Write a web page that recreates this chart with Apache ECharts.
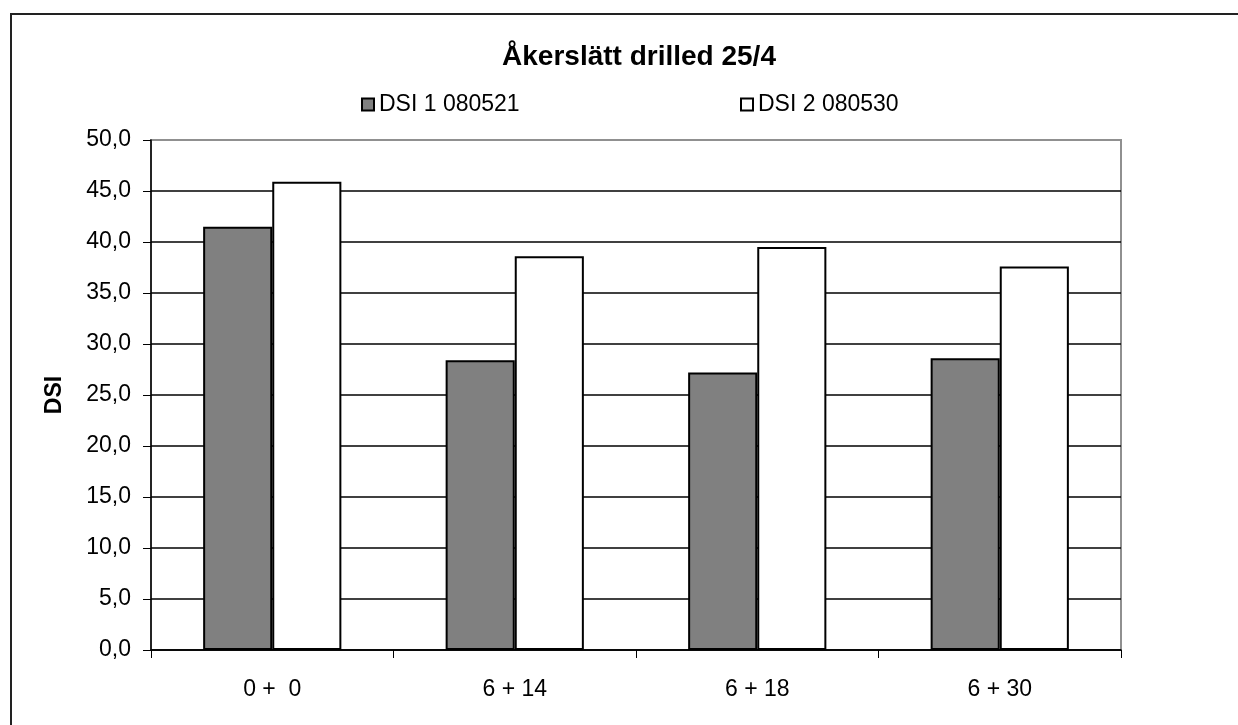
<!DOCTYPE html>
<html>
<head>
<meta charset="utf-8">
<script src="https://cdn.jsdelivr.net/npm/echarts@6/dist/echarts.min.js"></script>
<style>
    html, body { margin: 0; padding: 0; background: #fff; }
    #main { width: 1238px; height: 725px; }
</style>
</head>
<body>
<div id="main"></div>
<script>
    var categories = ['0 +  0', '6 + 14', '6 + 18', '6 + 30'];
    var dsi1 = [41.5, 28.4, 27.2, 28.6];
    var dsi2 = [45.9, 38.6, 39.5, 37.6];
    var seriesNames = ['DSI 1 080521', 'DSI 2 080530'];

    var myChart = echarts.init(document.getElementById('main'));
    var font = 'Liberation Sans, Arial, sans-serif';

    // top line of the plot area is grey, other grid lines black
    var gridColors = [];
    for (var i = 0; i < 10; i++) gridColors.push('#000');
    gridColors.push('#909090');

    var option = {
        backgroundColor: '#fff',
        animation: false,
        title: {
            text: 'Åkerslätt drilled 25/4',
            left: 634,
            textAlign: 'center',
            top: 38,
            textStyle: { fontFamily: font, fontSize: 28, fontWeight: 'bold', color: '#000' }
        },
        legend: [{
            data: [seriesNames[0]],
            left: 356,
            top: 88,
            icon: 'rect',
            itemWidth: 12,
            itemHeight: 12,
            textStyle: { fontFamily: font, fontSize: 23, color: '#000' }
        }, {
            data: [seriesNames[1]],
            left: 735,
            top: 88,
            icon: 'rect',
            itemWidth: 12,
            itemHeight: 12,
            textStyle: { fontFamily: font, fontSize: 23, color: '#000' }
        }],
        grid: {
            left: 151,
            right: 117,
            top: 140,
            bottom: 75,
            show: true,
            borderColor: '#909090',
            borderWidth: 2
        },
        xAxis: {
            type: 'category',
            data: categories,
            axisLine: { lineStyle: { color: '#000', width: 1.5 } },
            axisTick: { show: true, length: 8, lineStyle: { color: '#000' } },
            axisLabel: { fontFamily: font, fontSize: 23, color: '#000', margin: 28 }
        },
        yAxis: {
            type: 'value',
            min: 0,
            max: 50,
            interval: 5,
            name: 'DSI',
            nameLocation: 'middle',
            nameGap: 85,
            nameTextStyle: { fontFamily: font, fontSize: 23, fontWeight: 'bold', color: '#000' },
            axisLine: { show: true, lineStyle: { color: '#000', width: 1.5 } },
            axisTick: { show: true, length: 8, lineStyle: { color: '#000' } },
            axisLabel: {
                fontFamily: font, fontSize: 23, color: '#000', margin: 20,
                formatter: function (v) { return v.toFixed(1).replace('.', ','); }
            },
            splitLine: { show: true, lineStyle: { color: gridColors, width: 1.5 } }
        },
        series: [{
            name: seriesNames[0],
            type: 'bar',
            data: dsi1,
            barGap: '0%',
            barCategoryGap: '43%',
            itemStyle: { color: '#808080', borderColor: '#000', borderWidth: 2 }
        }, {
            name: seriesNames[1],
            type: 'bar',
            data: dsi2,
            barGap: '0%',
            barCategoryGap: '43%',
            itemStyle: { color: '#fff', borderColor: '#000', borderWidth: 2 }
        }],
        graphic: [{
            type: 'rect',
            shape: { x: 11, y: 14, width: 1300, height: 800 },
            style: { fill: 'none', stroke: '#222', lineWidth: 2 },
            silent: true
        }]
    };

    myChart.setOption(option);
</script>
</body>
</html>
